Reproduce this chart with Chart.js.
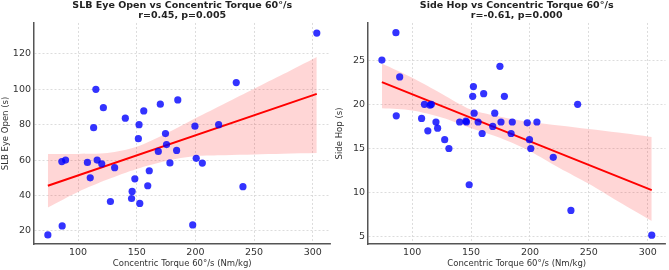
<!DOCTYPE html>
<html>
<head>
<meta charset="utf-8">
<script src="https://cdn.jsdelivr.net/npm/chart.js@4/dist/chart.umd.min.js"></script>
<style>
  html, body { margin: 0; padding: 0; background: #ffffff; }
  #wrap { position: relative; width: 669px; height: 270px; overflow: hidden; }
  .pane { position: absolute; top: 0; height: 270px; }
</style>
</head>
<body>
<div id="wrap">
  <div class="pane" style="left:0;width:334px"><canvas id="c1" width="334" height="270"></canvas></div>
  <div class="pane" style="left:334px;width:335px"><canvas id="c2" width="335" height="270"></canvas></div>
</div>
<script>
// ---- data ----
const torque = [74.3, 86.2, 86.5, 89.4, 108.0, 110.4, 113.3, 115.2, 116.3, 120.2, 121.6, 127.6, 131.2, 140.3, 145.6, 146.1, 148.4, 151.4, 152.0, 152.6, 156.0, 159.4, 160.7, 168.4, 170.1, 174.5, 175.4, 178.3, 184.0, 185.0, 197.7, 199.6, 200.7, 205.9, 219.8, 234.8, 240.5, 303.4];
const slbEyeOpen = [17.7, 59.2, 22.8, 60.0, 58.7, 50.0, 78.3, 100.0, 60.0, 57.9, 89.6, 36.6, 55.7, 83.7, 38.3, 42.3, 49.4, 72.1, 80.0, 35.5, 87.8, 45.5, 54.0, 64.9, 91.6, 75.0, 68.8, 58.4, 65.5, 94.0, 23.4, 79.2, 61.0, 58.3, 80.0, 103.8, 45.0, 131.8];
const sideHop = [25.0, 28.1, 18.7, 23.1, 18.4, 20.0, 17.0, 19.9, 20.0, 18.0, 17.3, 16.0, 15.0, 18.0, 18.1, 18.0, 10.9, 20.9, 22.0, 19.0, 18.0, 16.7, 21.2, 17.5, 19.0, 24.3, 18.0, 20.9, 16.7, 18.0, 17.9, 16.0, 15.0, 18.0, 14.0, 8.0, 20.0, 5.2];

const fitX = [74.3, 303.4];
const slbFit = [45.5, 97.4];
const hopFit = [22.5, 10.3];

const bandX = [74.3, 100, 125, 150, 175, 200, 225, 250, 275, 303.4];
const slbUpper = [63.4, 63.5, 64.0, 67.5, 75.0, 83.6, 92.0, 100.3, 108.6, 118.3];
const slbLower = [33.2, 42.0, 49.0, 55.0, 59.5, 62.3, 62.8, 63.2, 63.6, 64.0];
const hopUpper = [24.6, 23.0, 21.2, 19.4, 18.6, 18.0, 17.6, 17.2, 16.8, 16.3];
const hopLower = [19.55, 19.3, 18.5, 17.3, 16.2, 14.7, 12.8, 11.0, 9.0, 6.8];

const xTicks = [100, 150, 200, 250, 300];
const slbTicks = [20, 40, 60, 80, 100, 120];
const hopTicks = [5, 10, 15, 20, 25];

const titles1 = ["SLB Eye Open vs Concentric Torque 60°/s", "r=0.45, p=0.005"];
const titles2 = ["Side Hop vs Concentric Torque 60°/s", "r=-0.61, p=0.000"];
const xLabel = "Concentric Torque 60°/s (Nm/kg)";
const yLabel1 = "SLB Eye Open (s)";
const yLabel2 = "Side Hop (s)";

// ---- helpers ----
const FONT = "'DejaVu Sans', 'Liberation Sans', sans-serif";
const pts = (xs, ys) => xs.map((x, i) => ({ x: x, y: ys[i] }));

function makeChart(id, yVals, fit, up, lo, yTicks, yMin, yMax, titleLines, yTitle, rightPad) {
  return new Chart(document.getElementById(id), {
    type: 'scatter',
    data: {
      datasets: [
        { data: pts(torque, yVals), backgroundColor: 'rgba(0,0,255,0.8)', borderWidth: 0, pointRadius: 3.6, pointHoverRadius: 3.6 },
        { data: pts(fitX, fit), showLine: true, borderColor: '#ff0000', borderWidth: 2, pointRadius: 0, fill: false },
        { data: pts(bandX, up), showLine: true, borderWidth: 0, borderColor: 'rgba(0,0,0,0)', pointRadius: 0, tension: 0.3, fill: '+1', backgroundColor: 'rgba(255,0,0,0.16)' },
        { data: pts(bandX, lo), showLine: true, borderWidth: 0, borderColor: 'rgba(0,0,0,0)', pointRadius: 0, tension: 0.3, fill: false }
      ]
    },
    options: {
      responsive: false,
      animation: false,
      layout: { padding: { left: 0, right: rightPad, top: 0, bottom: 0 } },
      plugins: {
        legend: { display: false },
        tooltip: { enabled: false },
        title: {
          display: true,
          fullSize: false,
          text: titleLines,
          color: '#222222',
          font: { family: FONT, size: 9.5, weight: 'bold', lineHeight: 1.05 },
          padding: { top: 1, bottom: 2 }
        }
      },
      scales: {
        x: {
          type: 'linear',
          min: 62.5, max: 315,
          afterFit: s => { s.height = 26; },
          afterBuildTicks: s => { s.ticks = xTicks.map(v => ({ value: v })); },
          grid: { color: '#d4d4d4', lineWidth: 0.8, drawTicks: false },
          border: { display: true, color: '#555555', width: 1.5, dash: [2, 2] },
          ticks: { color: '#333333', font: { family: FONT, size: 9.5 }, padding: 3, maxRotation: 0 },
          title: { display: true, text: xLabel, color: '#333333', font: { family: FONT, size: 8.5, lineHeight: 1.2 }, padding: { top: 0, bottom: 1.6 } }
        },
        y: {
          type: 'linear',
          min: yMin, max: yMax,
          afterFit: s => { s.width = 34; },
          afterBuildTicks: s => { s.ticks = yTicks.map(v => ({ value: v })); },
          grid: { color: '#d4d4d4', lineWidth: 0.8, drawTicks: false },
          border: { display: true, color: '#555555', width: 1.5, dash: [2, 2] },
          ticks: { color: '#333333', font: { family: FONT, size: 9.5 }, padding: 3 },
          title: { display: true, text: yTitle, color: '#333333', font: { family: FONT, size: 8.5, lineHeight: 1.2 }, padding: { top: 1, bottom: 0 } }
        }
      }
    }
  });
}

makeChart('c1', slbEyeOpen, slbFit, slbUpper, slbLower, slbTicks, 12.6, 137.5, titles1, yLabel1, 1);
makeChart('c2', sideHop, hopFit, hopUpper, hopLower, hopTicks, 4.2, 29.2, titles2, yLabel2, 2);
</script>
</body>
</html>
